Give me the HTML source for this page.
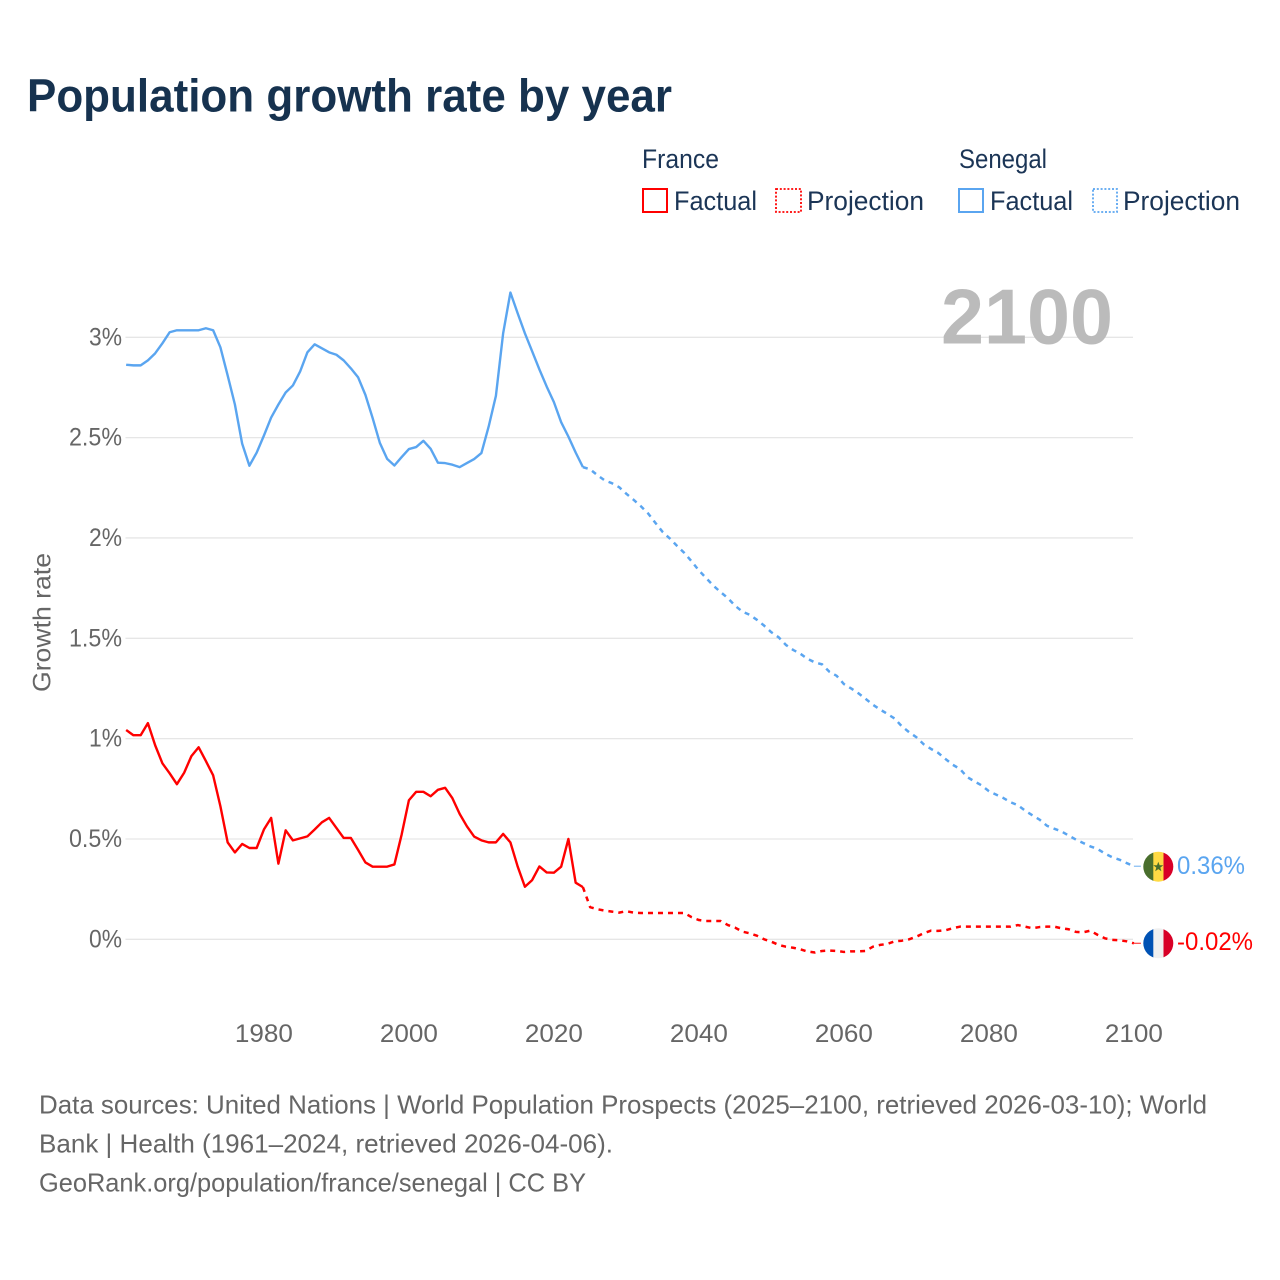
<!DOCTYPE html>
<html lang="en">
<head>
<meta charset="utf-8">
<title>Population growth rate by year</title>
<style>
  html, body { margin: 0; padding: 0; background: #fff; }
  svg { display: block; font-family: "Liberation Sans", sans-serif; }
  .legend-text { font-size: 27px; fill: #1b3556; }
  .foot { font-size: 26px; fill: #666; }
  .tick { font-size: 25px; fill: #666; }
</style>
</head>
<body>
<svg id="chart" xmlns="http://www.w3.org/2000/svg" width="1280" height="1280" viewBox="0 0 1280 1280">
  <defs>
    <clipPath id="clip-sn"><circle cx="1158.3" cy="866.7" r="15"></circle></clipPath>
    <clipPath id="clip-fr"><circle cx="1158.3" cy="943.3" r="15"></circle></clipPath>
  </defs>
  <rect x="0" y="0" width="1280" height="1280" fill="#fff"></rect>

  <text x="27" y="111.5" font-size="46" font-weight="700" fill="#16324f" textLength="645" lengthAdjust="spacingAndGlyphs">Population growth rate by year</text>

  <g>
    <text class="legend-text" x="642" y="168" textLength="77" lengthAdjust="spacingAndGlyphs">France</text>
    <text class="legend-text" x="959" y="168" textLength="88" lengthAdjust="spacingAndGlyphs">Senegal</text>
    <rect x="643" y="189" width="24" height="23" fill="none" stroke="#ff0000" stroke-width="2"></rect>
    <text class="legend-text" x="674" y="210" textLength="83" lengthAdjust="spacingAndGlyphs">Factual</text>
    <rect x="776" y="189" width="25" height="23" fill="none" stroke="#ff0000" stroke-width="1.8" stroke-dasharray="2 1.8"></rect>
    <text class="legend-text" x="807" y="210" textLength="117" lengthAdjust="spacingAndGlyphs">Projection</text>
    <rect x="959" y="189" width="24" height="23" fill="none" stroke="#5aa5f0" stroke-width="2"></rect>
    <text class="legend-text" x="990" y="210" textLength="83" lengthAdjust="spacingAndGlyphs">Factual</text>
    <rect x="1093" y="189" width="24" height="23" fill="none" stroke="#5aa5f0" stroke-width="1.8" stroke-dasharray="2 1.8"></rect>
    <text class="legend-text" x="1123" y="210" textLength="117" lengthAdjust="spacingAndGlyphs">Projection</text>
  </g>

  <g id="grid"></g>
  <text x="941" y="343.5" font-size="78" font-weight="700" fill="#bbbbbb" textLength="172" lengthAdjust="spacingAndGlyphs">2100</text>
  <g id="yticks"></g>
  <g id="xticks"></g>
  <text transform="translate(50.5,622.5) rotate(-90)" text-anchor="middle" font-size="25" fill="#666" textLength="139" lengthAdjust="spacingAndGlyphs">Growth rate</text>
  <g id="series"></g>

  <g clip-path="url(#clip-sn)">
    <rect x="1143" y="851" width="10.5" height="32" fill="#496e2d"></rect>
    <rect x="1153.3" y="851" width="10.5" height="32" fill="#ffda44"></rect>
    <rect x="1163.5" y="851" width="11" height="32" fill="#d80027"></rect>
    <polygon points="1158.3,861.7 1159.6,865.3 1163.3,865.3 1160.3,867.6 1161.4,871.3 1158.3,869.1 1155.2,871.3 1156.3,867.6 1153.3,865.3 1157,865.3" fill="#496e2d"></polygon>
  </g>
  <g clip-path="url(#clip-fr)">
    <rect x="1143" y="928" width="10.5" height="32" fill="#0052b4"></rect>
    <rect x="1153.3" y="928" width="10.5" height="32" fill="#f0f0f0"></rect>
    <rect x="1163.5" y="928" width="11" height="32" fill="#d80027"></rect>
  </g>

  <text x="1177" y="874" font-size="25" fill="#5aa5f0" textLength="68" lengthAdjust="spacingAndGlyphs">0.36%</text>
  <text x="1177" y="950" font-size="25" fill="#ff0000" textLength="76" lengthAdjust="spacingAndGlyphs">-0.02%</text>

  <g>
    <text class="foot" x="39" y="1113.5" textLength="1168" lengthAdjust="spacingAndGlyphs">Data sources: United Nations | World Population Prospects (2025–2100, retrieved 2026-03-10); World</text>
    <text class="foot" x="39" y="1152.5" textLength="574" lengthAdjust="spacingAndGlyphs">Bank | Health (1961–2024, retrieved 2026-04-06).</text>
    <text class="foot" x="39" y="1191.5" textLength="547" lengthAdjust="spacingAndGlyphs">GeoRank.org/population/france/senegal | CC BY</text>
  </g>
</svg>
<script>
const factualStartYear = 1961;
const projectionStartYear = 2024;
const xTickYears = [1980, 2000, 2020, 2040, 2060, 2080, 2100];
const yTickValues = [0, 0.5, 1, 1.5, 2, 2.5, 3];
const yTickLabels = ['0%', '0.5%', '1%', '1.5%', '2%', '2.5%', '3%'];

// 1961–2024
const franceFactual = [1.043,1.017,1.017,1.077,.967,.877,.827,.773,.83,.913,.957,.888,.817,.663,.483,.433,.475,.455,.455,.547,.605,.377,.543,.493,.503,.513,.547,.583,.605,.555,.505,.505,.445,.383,.362,.362,.362,.373,.522,.693,.735,.735,.713,.745,.755,.703,.625,.563,.512,.493,.483,.483,.525,.483,.363,.262,.295,.363,.333,.332,.362,.5,.282,.26];
// 2024–2100
const franceProjection = [.26,.16,.15,.143,.138,.133,.14,.133,.131,.131,.131,.131,.131,.131,.131,.11,.096,.091,.091,.091,.071,.058,.038,.03,.018,0,-.012,-.028,-.037,-.042,-.05,-.061,-.066,-.058,-.056,-.058,-.063,-.06,-.06,-.058,-.037,-.028,-.023,-.01,-.007,0,.013,.03,.043,.042,.045,.055,.063,.063,.063,.063,.063,.063,.063,.063,.071,.063,.055,.061,.063,.063,.055,.05,.037,.035,.043,.022,.005,-.003,-.005,-.01,-.02];
// 1961–2024
const senegalFactual = [2.863,2.86,2.86,2.885,2.92,2.97,3.025,3.035,3.035,3.035,3.035,3.045,3.035,2.95,2.81,2.665,2.47,2.36,2.425,2.51,2.6,2.665,2.725,2.76,2.83,2.925,2.965,2.945,2.925,2.913,2.885,2.845,2.8,2.713,2.597,2.473,2.394,2.361,2.403,2.443,2.453,2.484,2.444,2.375,2.373,2.365,2.353,2.373,2.393,2.423,2.555,2.708,3.02,3.223,3.12,3.02,2.93,2.84,2.755,2.677,2.577,2.505,2.426,2.353];
// 2024–2100
const senegalProjection = [2.353,2.342,2.313,2.287,2.273,2.253,2.22,2.19,2.158,2.122,2.075,2.03,1.997,1.96,1.925,1.883,1.838,1.8,1.762,1.73,1.7,1.662,1.633,1.617,1.592,1.563,1.53,1.505,1.467,1.442,1.423,1.397,1.38,1.37,1.333,1.313,1.272,1.25,1.226,1.198,1.169,1.145,1.123,1.1,1.061,1.032,1.007,.972,.949,.929,.899,.87,.849,.809,.787,.767,.738,.721,.704,.683,.668,.641,.618,.596,.566,.551,.538,.517,.497,.48,.463,.45,.427,.409,.397,.38,.364];

function xScale(year) { return 263.9 + (year - 1980) * 7.25; }
function yScale(value) { return 939.3 - value * 200.67; }

const SVG_NS = 'http://www.w3.org/2000/svg';

function linePath(values, startYear) {
  return values.map(function (v, i) {
    return (i ? 'L' : 'M') + xScale(startYear + i).toFixed(2) + ' ' + yScale(v).toFixed(2);
  }).join(' ');
}

const gridGroup = document.getElementById('grid');
const yTickGroup = document.getElementById('yticks');
yTickValues.forEach(function (v, i) {
  const line = document.createElementNS(SVG_NS, 'line');
  
  
  line.setAttribute('x1', 125.5);
  line.setAttribute('x2', 1133);
  line.setAttribute('y1', yScale(v));
  line.setAttribute('y2', yScale(v));
  line.setAttribute('stroke', '#e6e6e6');
  line.setAttribute('stroke-width', 1.3);
  gridGroup.appendChild(line);

  const t = document.createElementNS(SVG_NS, 'text');
  
  
  t.setAttribute('class', 'tick');
  t.setAttribute('x', 122);
  t.setAttribute('y', yScale(v) + 8);
  t.setAttribute('text-anchor', 'end');
  t.setAttribute('textLength', 13 + 10 * yTickLabels[i].length);
  t.setAttribute('lengthAdjust', 'spacingAndGlyphs');
  t.textContent = yTickLabels[i];
  yTickGroup.appendChild(t);
});

const xTickGroup = document.getElementById('xticks');
xTickYears.forEach(function (year) {
  const t = document.createElementNS(SVG_NS, 'text');
  
  
  t.setAttribute('class', 'tick');
  t.setAttribute('x', xScale(year));
  t.setAttribute('y', 1042);
  t.setAttribute('text-anchor', 'middle');
  t.setAttribute('textLength', 58);
  t.setAttribute('lengthAdjust', 'spacingAndGlyphs');
  t.textContent = String(year);
  xTickGroup.appendChild(t);
});

const seriesGroup = document.getElementById('series');

function addSeries(name, values, startYear, color, dashed) {
  const p = document.createElementNS(SVG_NS, 'path');
  
  
  p.setAttribute('d', linePath(values, startYear));
  p.setAttribute('fill', 'none');
  p.setAttribute('stroke', color);
  p.setAttribute('stroke-width', dashed ? 2.5 : 2.4);
  p.setAttribute('stroke-linejoin', 'round');
  if (dashed) p.setAttribute('stroke-dasharray', '5 5');
  seriesGroup.appendChild(p);
}

function addConnector(name, value, color) {
  const c = document.createElementNS(SVG_NS, 'line');
  
  
  c.setAttribute('x1', xScale(2100));
  c.setAttribute('x2', xScale(2100) + 7);
  c.setAttribute('y1', yScale(value));
  c.setAttribute('y2', yScale(value));
  c.setAttribute('stroke', color);
  c.setAttribute('stroke-width', 1.3);
  c.setAttribute('stroke-opacity', 0.7);
  seriesGroup.appendChild(c);
}

addSeries('senegal-factual-line', senegalFactual, factualStartYear, '#5aa5f0', false);
addSeries('senegal-projection-line', senegalProjection, projectionStartYear, '#5aa5f0', true);
addSeries('france-factual-line', franceFactual, factualStartYear, '#ff0000', false);
addSeries('france-projection-line', franceProjection, projectionStartYear, '#ff0000', true);
addConnector('senegal-flag-connector', senegalProjection[senegalProjection.length - 1], '#5aa5f0');
addConnector('france-flag-connector', franceProjection[franceProjection.length - 1], '#ff0000');
</script>
</body>
</html>
